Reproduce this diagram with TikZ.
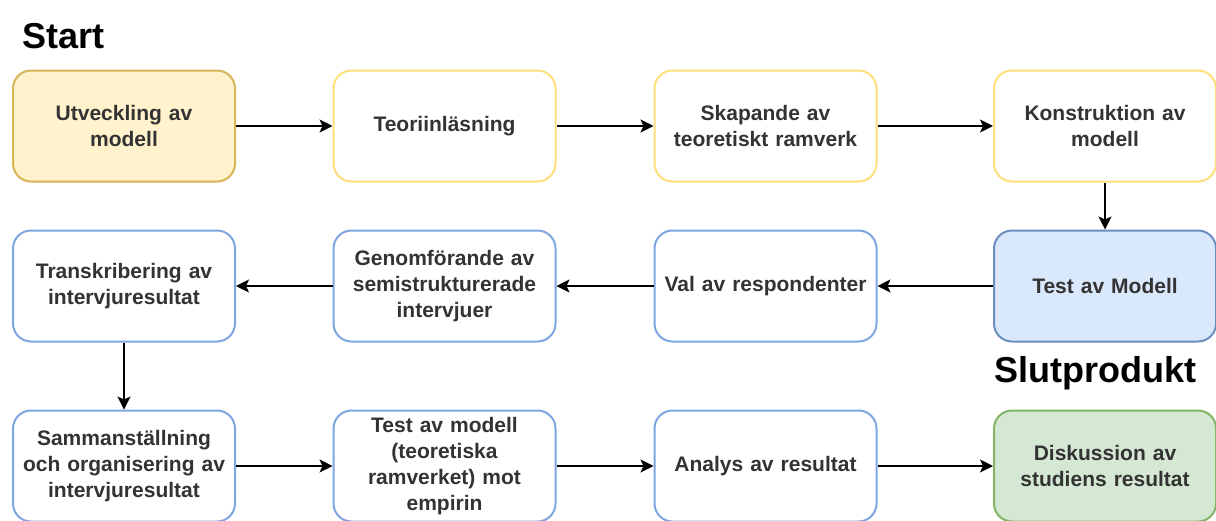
\documentclass[tikz,border=0pt]{standalone}
\usepackage{fontspec}
\setmainfont{Liberation Sans}
\usetikzlibrary{arrows.meta}
\definecolor{ylfill}{HTML}{FFF2CC}
\definecolor{ylline}{HTML}{D6B656}
\definecolor{ylpale}{HTML}{FFD966}
\definecolor{blline}{HTML}{7EA6E0}
\definecolor{blfill}{HTML}{DAE8FC}
\definecolor{bldark}{HTML}{6C8EBF}
\definecolor{grfill}{HTML}{D5E8D4}
\definecolor{grline}{HTML}{82B366}
\definecolor{txt}{HTML}{333333}
\tikzset{
  stage/.style={draw, rounded corners=18pt, line width=2pt, fill=white,
    minimum width=222pt, minimum height=111pt, align=center, text width=215pt,
    font=\fontsize{21}{26}\selectfont\bfseries, text=txt, inner sep=0pt},
  firststage/.style={stage, draw=ylline, fill=ylfill},
  planstage/.style={stage, draw=ylpale, opacity=0.85, text opacity=1},
  workstage/.style={stage, draw=blline},
  teststage/.style={stage, draw=bldark, fill=blfill},
  endstage/.style={stage, draw=grline, fill=grfill},
  heading/.style={font=\fontsize{36}{40}\selectfont\bfseries, anchor=west, inner sep=0pt},
  flow/.style={-{Stealth[length=13pt,width=13pt,inset=3pt]}, line width=1.5pt}
}
\begin{document}
\begin{tikzpicture}[x=1pt,y=-1pt]
\useasboundingbox (0,0) rectangle (1216,520);
\fill[white] (0,0) rectangle (1216,520);

\node[heading] (start) at (22,36) {Start};
\node[heading] (slut) at (994,373) {Slutprodukt};

% first row
\node[firststage] (a1) at (124,126) {Utveckling av\\modell};
\node[planstage] (a2) at (444.5,126) {Teoriinläsning};
\node[planstage] (a3) at (765.5,126) {Skapande av\\teoretiskt ramverk};
\node[planstage] (a4) at (1105,126) {Konstruktion av\\modell};

% second row
\node[workstage] (b1) at (124,286) {Transkribering av\\intervjuresultat};
\node[workstage] (b2) at (444.5,286) {Genomförande av\\semistrukturerade\\intervjuer};
\node[workstage] (b3) at (765.5,286) {Val av respondenter};
\node[teststage] (b4) at (1105,286) {Test av Modell};

% third row
\node[workstage] (c1) at (124,466) {Sammanställning\\och organisering av\\intervjuresultat};
\node[workstage] (c2) at (444.5,466) {Test av modell\\(teoretiska\\ramverket) mot\\empirin};
\node[workstage] (c3) at (765.5,466) {Analys av resultat};
\node[endstage] (c4) at (1105,466) {Diskussion av\\studiens resultat};

\draw[flow] (a1) -- (a2);
\draw[flow] (a2) -- (a3);
\draw[flow] (a3) -- (a4);
\draw[flow] (a4) -- (b4);
\draw[flow] (b4) -- (b3);
\draw[flow] (b3) -- (b2);
\draw[flow] (b2) -- (b1);
\draw[flow] (b1) -- (c1);
\draw[flow] (c1) -- (c2);
\draw[flow] (c2) -- (c3);
\draw[flow] (c3) -- (c4);
\end{tikzpicture}
\end{document}
